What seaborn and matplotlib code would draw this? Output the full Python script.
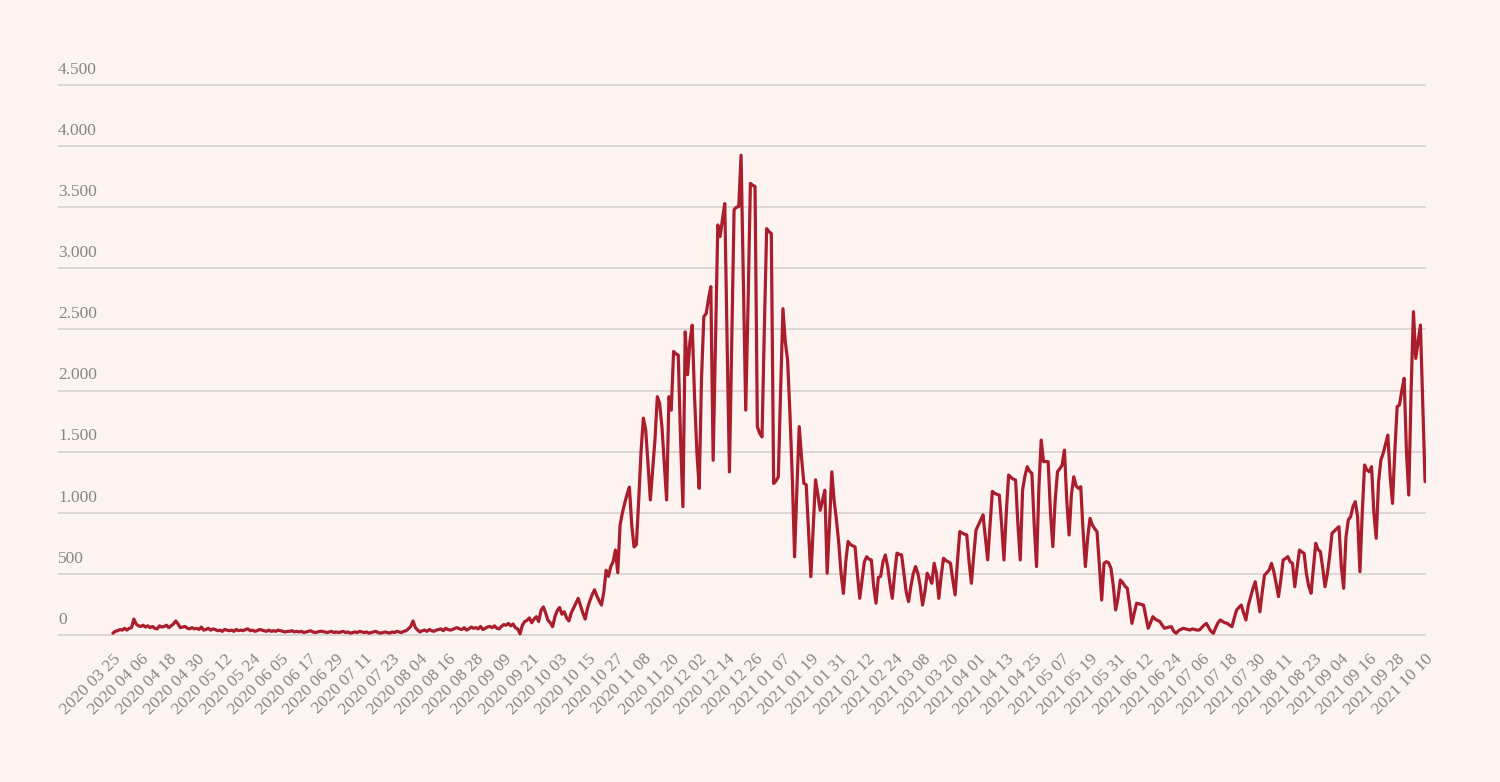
import matplotlib
matplotlib.use('Agg')
import matplotlib.pyplot as plt
import matplotlib.transforms as mtransforms
import pandas as pd
import seaborn as sns

# ---------------- data (daily values) ----------------
START_DATE = '2020-03-25'

spring_summer_2020 = [
    15, 30, 35, 45, 40, 55, 40,
    55, 60, 130, 90, 75, 70, 80,
    65, 75, 60, 70, 55, 50, 75,
    65, 70, 80, 60, 75, 90, 115,
    90, 60, 65, 70, 55, 50, 60,
    50, 55, 45, 65, 40, 45, 55,
    40, 50, 45, 35, 40, 30, 45,
    40, 35, 40, 30, 45, 35, 40,
    35, 45, 50, 35, 40, 30, 35,
    45, 40, 35, 30, 40, 30, 35,
    30, 40, 35, 30, 25, 30, 30,
    35, 25, 30, 25, 30, 20, 25,
    30, 35, 25, 20, 25, 30, 30,
    25, 20, 25, 30, 20, 25, 20,
    25, 30, 20, 25, 15, 20, 25,
    20, 30, 25, 20, 25, 15, 20,
    25, 30, 20, 15, 20, 25, 20,
    15, 25, 20, 30, 25, 20, 30,
    35, 50, 70, 115, 60, 40, 25,
    35, 40, 30, 45, 35, 30, 40,
    45, 50, 35, 55, 45, 40, 45,
    55, 60, 50, 45, 60, 40, 50,
    65, 55, 60, 50, 70, 45, 55,
    65, 70, 60, 75, 55, 50, 70,
    85, 80, 95, 75, 90, 60, 50,
]

autumn_2020 = [
    10, 80, 110, 120, 140, 100, 130,
    150, 110, 200, 230, 180, 120, 100,
    68, 150, 200, 225, 170, 190, 140,
    115, 180, 220, 260, 300, 240, 180,
    130, 220, 280, 330, 370, 320, 280,
    245, 350, 530, 480, 560, 600, 695,
    510, 900, 1000, 1080, 1150, 1210, 900,
    720, 740, 1100, 1500, 1775, 1680, 1400,
    1105, 1350, 1600, 1950, 1895, 1700, 1400,
    1105, 1950, 1840, 2320, 2300, 2290, 1600,
    1050, 2480, 2130, 2400, 2535, 1950, 1500,
    1200, 2100, 2605, 2630, 2750, 2850, 1430,
    2400, 3355, 3260, 3400, 3530, 2400, 1335,
    2400, 3480, 3500, 3505, 3925, 2900, 1840,
    2700, 3695, 3680, 3670, 1705, 1650, 1620,
]

winter_2021 = [
    2500, 3325, 3300, 3285, 1240, 1260, 1295,
    2000, 2670, 2400, 2250, 1815, 1300, 640,
    1200, 1705, 1450, 1240, 1230, 850, 477,
    870, 1270, 1150, 1020, 1100, 1185, 505,
    900, 1335, 1100, 940, 750, 500, 340,
    600, 765, 740, 730, 720, 500, 300,
    450, 600, 640, 620, 615, 400, 260,
    470, 480, 600, 655, 560, 420, 300,
    500, 670, 660, 655, 500, 350, 273,
    400, 500, 560, 505, 400, 245, 350,
    505, 470, 423, 587, 500, 300, 480,
    628, 610, 600, 587, 450, 328, 600,
    846, 835, 825, 820, 600, 423, 650,
]

spring_2021 = [
    860, 900, 940, 983, 800, 615, 900,
    1175, 1160, 1150, 1145, 900, 614, 1000,
    1309, 1290, 1275, 1268, 900, 614, 1186,
    1300, 1377, 1340, 1323, 900, 560, 1200,
    1595, 1418, 1420, 1418, 1000, 723, 1100,
    1336, 1360, 1390, 1513, 1100, 818, 1150,
    1295, 1220, 1200, 1213, 850, 560, 800,
    955, 900, 870, 845, 573, 286, 586,
    600, 590, 545, 400, 205, 300, 450,
    430, 400, 382, 250, 95, 180, 260,
    255, 250, 245, 150, 55, 100, 150,
    130, 120, 110, 80, 55, 60, 65,
    68, 30, 14, 35, 45, 55, 50,
    45, 41, 50, 45, 40, 41, 60,
    80, 95, 60, 30, 14, 60, 100,
]

summer_autumn_2021 = [
    123, 110, 100, 95, 80, 68, 140,
    205, 225, 245, 180, 123, 240, 310,
    380, 436, 320, 190, 350, 490, 510,
    532, 586, 518, 420, 314, 450, 614,
    625, 641, 600, 586, 395, 550, 695,
    680, 668, 500, 400, 341, 550, 750,
    700, 682, 550, 395, 500, 650, 832,
    850, 870, 886, 560, 382, 800, 941,
    968, 1050, 1091, 968, 518, 1000, 1391,
    1350, 1336, 1377, 1000, 791, 1250, 1432,
    1486, 1560, 1636, 1300, 1077, 1500, 1868,
    1882, 2000, 2100, 1500, 1145, 2000, 2645,
    2263, 2400, 2536, 1900, 1255,
]

y_ticks = [0, 500, 1000, 1500, 2000, 2500, 3000, 3500, 4000, 4500]
TICK_STEP = 12  # one date label every 12 days

cases = spring_summer_2020 + autumn_2020 + winter_2021 + spring_2021 + summer_autumn_2021
dates = pd.date_range(START_DATE, periods=len(cases), freq='D')
df = pd.DataFrame({'date': dates, 'cases': cases})

# ---------------- style ----------------
BG = '#fdf4f2'
LINE = '#aa1d2c'
GRID = '#d6d0cf'
TXT = '#8a8484'

sns.set_style('white')
plt.rcParams['font.family'] = ['Liberation Serif', 'DejaVu Serif']

W, H = 1500, 782
fig = plt.figure(figsize=(W / 100, H / 100), dpi=100, facecolor=BG)
# axes box in pixels: x 58..1426, y 80..640
ax = fig.add_axes([58 / W, 1 - 640 / H, (1426 - 58) / W, (640 - 80) / H])
ax.set_facecolor(BG)

sns.lineplot(data=df, x='date', y='cases', color=LINE, linewidth=2.3, ax=ax)

# y scale: 0 at 635 px, 4500 at 85 px
per_px = 4500 / (635 - 85)
ax.set_ylim(-5 * per_px, 4500 + 5 * per_px)
ax.set_xlim(dates[0] - pd.Timedelta(days=23.6), dates[-1] + pd.Timedelta(days=0.4))

for s in ax.spines.values():
    s.set_visible(False)

ax.set_yticks(y_ticks)
ax.yaxis.grid(True, color=GRID, linewidth=1.2)
ax.xaxis.grid(False)
ax.set_yticklabels([])
ax.tick_params(axis='y', length=0)

lab_tr = mtransforms.offset_copy(ax.get_yaxis_transform(), fig=fig, x=0, y=11, units='points')
for v in y_ticks:
    ax.text(0, v, f'{v:,}'.replace(',', '.'), transform=lab_tr,
            ha='left', va='center', fontsize=12.5, color=TXT)

tick_dates = dates[::TICK_STEP]
ax.set_xticks(tick_dates)
ax.set_xticklabels([d.strftime('%Y %m %d') for d in tick_dates],
                   rotation=45, ha='right', va='top', rotation_mode='anchor',
                   fontsize=12.5, color=TXT)
ax.tick_params(axis='x', length=0, pad=8)
ax.set_xlabel('')
ax.set_ylabel('')

fig.savefig('out.png', dpi=100, facecolor=BG)
